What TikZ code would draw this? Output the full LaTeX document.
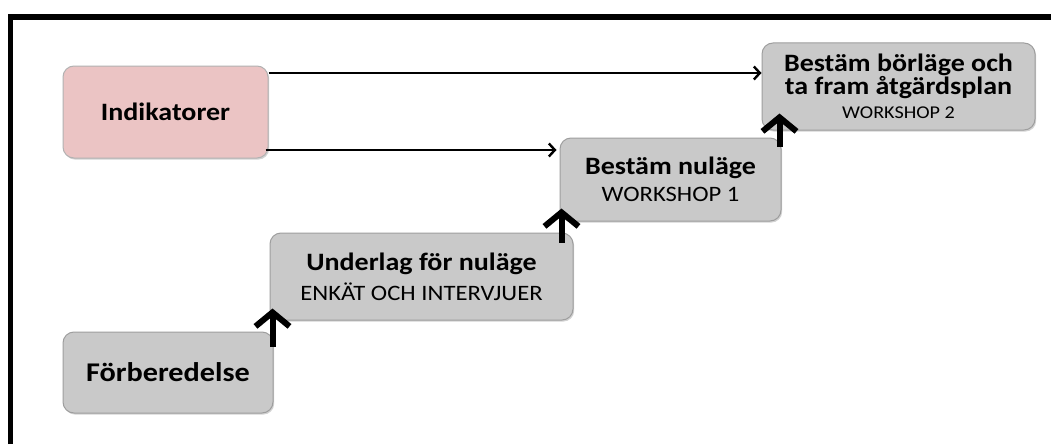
\documentclass[tikz,border=0pt]{standalone}
\usepackage{fontspec}
\setmainfont{Carlito}[FakeStretch=1.12]
\usetikzlibrary{arrows.meta,shadows,calc}
\tikzset{
  stepbox/.style={draw=black!38, line width=1pt, rounded corners=11pt, fill=black!21,
    align=center, inner sep=2pt,
    drop shadow={opacity=0.35, shadow xshift=1.2pt, shadow yshift=-1.6pt}},
  indbox/.style={stepbox, fill={rgb,255:red,235;green,196;blue,196}, draw=black!30},
  uparrow/.style={line width=6pt, -{Straight Barb[length=14pt,width=34pt]}},
  sidearrow/.style={line width=2.4pt, -{Straight Barb[length=6pt,width=13pt]}},
}
\newcommand{\bt}[1]{\fontsize{#1}{#1}\selectfont\bfseries}
\newcommand{\rt}[2]{\fontsize{#1}{#2}\selectfont\mdseries}
\begin{document}
\begin{tikzpicture}[x=1pt,y=-1pt]
\useasboundingbox (0,0) rectangle (1051,444);
\fill[white] (0,0) rectangle (1051,444);
% frame (top and left edges)
\draw[line width=5.5pt] (10.5,444) -- (10.5,17) -- (1051,17);
% nodes
\node[indbox, minimum width=205pt, minimum height=92pt] (ind) at (165.5,112)
  {\bt{25}Indikatorer};
\node[stepbox, minimum width=210pt, minimum height=81pt] (forb) at (168,372.5)
  {\bt{27}Förberedelse};
\node[stepbox, minimum width=303pt, minimum height=87pt] (und) at (421.5,276.5)
  {\bt{25}Underlag för nuläge\\[7pt]\rt{22}{27}ENKÄT OCH INTERVJUER};
\node[stepbox, minimum width=221pt, minimum height=83pt] (nul) at (670.5,179.5)
  {\bt{25}Bestäm nuläge\\[8pt]\rt{22}{26}WORKSHOP 1};
\node[stepbox, minimum width=273pt, minimum height=87pt] (bor) at (898.5,86.5)
  {\bt{25}Bestäm börläge och\\\bt{25}ta fram åtgärdsplan\\[7pt]\rt{18}{24}WORKSHOP 2};
% horizontal arrows
\draw[sidearrow] (ind.east |- 0,73) -- (bor.west |- 0,73);
\draw[sidearrow] ($(ind.east |- 0,150)+(-3,0)$) -- ($(nul.west |- 0,150)+(-3,0)$);
% up arrows
\coordinate (a1) at ($(forb.north east)+(-1,15)$);
\coordinate (a2) at ($(und.north east)+(-12,10)$);
\coordinate (a3) at ($(nul.north east)+(-2,9)$);
\draw[uparrow] (a1) -- ($(a1 |- und.south)+(0,-12)$);
\draw[uparrow] (a2) -- ($(a2 |- nul.south)+(0,-13)$);
\draw[uparrow] (a3) -- ($(a3 |- bor.south)+(0,-17)$);
\end{tikzpicture}
\end{document}
